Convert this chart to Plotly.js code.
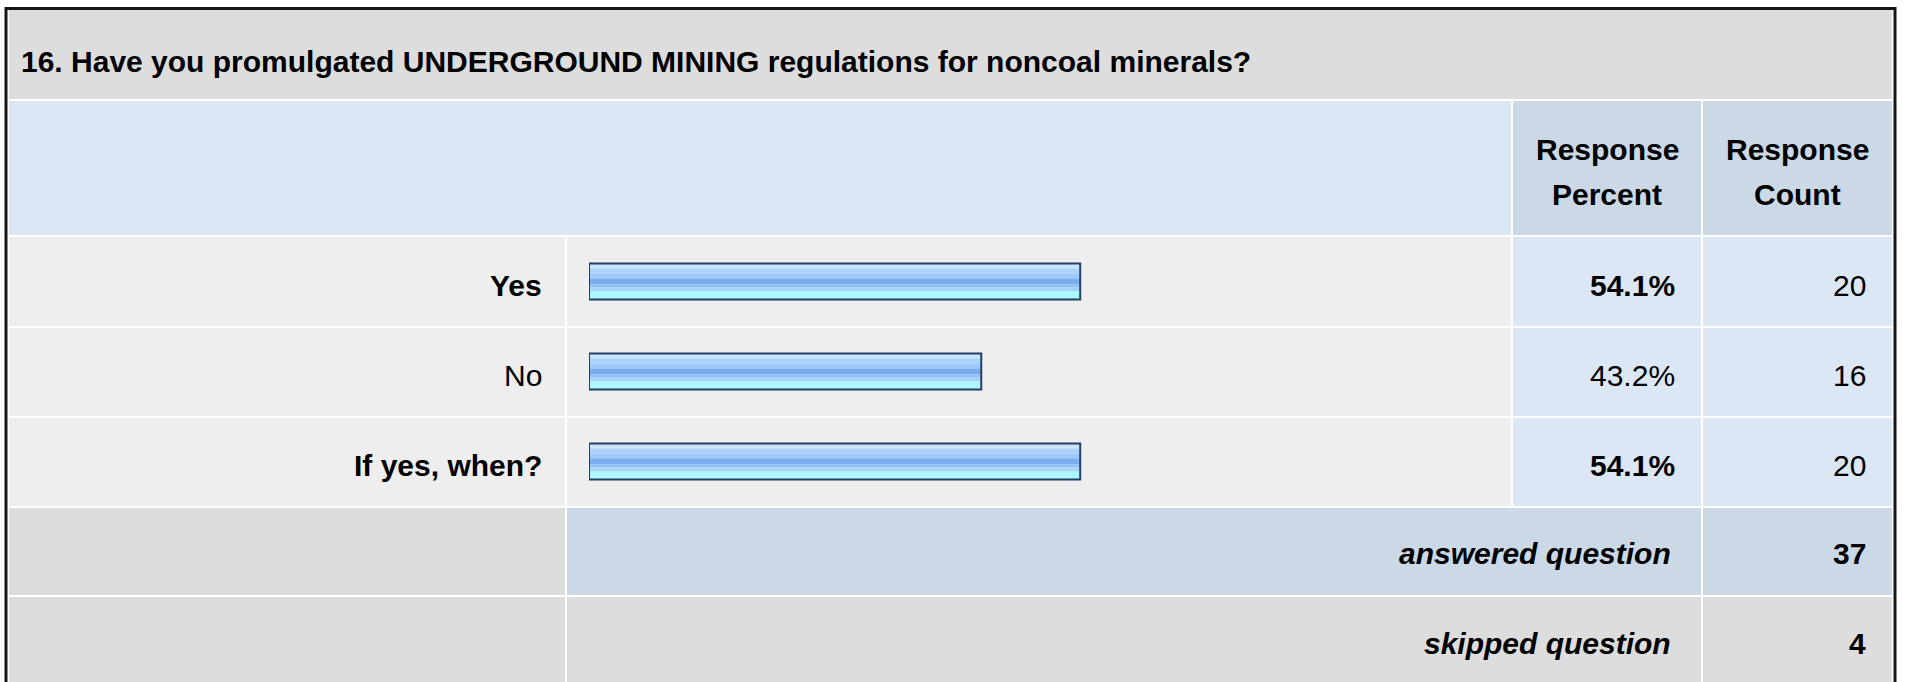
<!DOCTYPE html>
<html>
<head>
<meta charset="utf-8">
<script src="https://cdn.plot.ly/plotly-3.0.1.min.js"></script>
<style>
  html, body { margin: 0; padding: 0; background: #ffffff; }
  #chart { width: 1907px; height: 682px; }
</style>
</head>
<body>
<div id="chart"></div>
<script>
// ---- data ----
const questionTitle = "16. Have you promulgated UNDERGROUND MINING regulations for noncoal minerals?";
const categories = ["Yes", "No", "If yes, when?"];
const percents = [54.1, 43.2, 54.1];
const counts = [20, 16, 20];
const headerPercent = ["Response", "Percent"];
const headerCount = ["Response", "Count"];
const summaryLabels = ["answered question", "skipped question"];
const summaryValues = [37, 4];

// ---- layout helpers (pixels -> paper) ----
const W = 1907, H = 682;
const px = x => x / W;
const py = y => 1 - y / H;
const FONT = "Liberation Sans, Arial, Helvetica, sans-serif";

// column x-ranges (pixels)
const colLabel = [9, 565], colBar = [567, 1511], colPct = [1513, 1701], colCnt = [1703, 1892];
// row y-ranges (pixels)
const rowTitle = [10, 99], rowHead = [101, 235];
const rowResp = [[237, 326], [328, 416], [418, 506]];
const rowAns = [508, 595], rowSkip = [597, 690];

const C_TITLE = "#dddddd", C_HEADL = "#dce7f5", C_HEADD = "#cbd8e6",
      C_ROW = "#eeeeee", C_BLUE = "#dce7f5", C_GREY = "#dddddd";

const shapes = [];
function cell(xr, yr, color) {
  shapes.push({type: "rect", xref: "paper", yref: "paper", layer: "below",
    x0: px(xr[0]), x1: px(xr[1]), y0: py(yr[0]), y1: py(yr[1]),
    fillcolor: color, line: {width: 0}});
}
cell([9, 1892], rowTitle, C_TITLE);
cell([9, 1511], rowHead, C_HEADL);
cell(colPct, rowHead, C_HEADD);
cell(colCnt, rowHead, C_HEADD);
rowResp.forEach(r => {
  cell(colLabel, r, C_ROW);
  cell(colBar, r, C_ROW);
  cell(colPct, r, C_BLUE);
  cell(colCnt, r, C_BLUE);
});
cell(colLabel, rowAns, C_GREY);
cell([567, 1701], rowAns, C_HEADD);
cell(colCnt, rowAns, C_HEADD);
cell(colLabel, rowSkip, C_GREY);
cell([567, 1701], rowSkip, C_GREY);
cell(colCnt, rowSkip, C_GREY);
// outer frame
shapes.push({type: "rect", xref: "paper", yref: "paper", layer: "above",
  x0: px(6), x1: px(1895), y0: py(8.5), y1: py(720),
  fillcolor: "rgba(0,0,0,0)", line: {color: "#151515", width: 3}});

// ---- annotations ----
const ann = [];
function txt(text, x, y, anchor, size, weight, style) {
  ann.push({text: text, xref: "paper", yref: "paper", x: px(x), y: py(y),
    xanchor: anchor, yanchor: "middle", showarrow: false,
    font: {family: FONT, size: size, color: "#000000", weight: weight || "normal", style: style || "normal"}});
}
txt(questionTitle, 19, 61, "left", 30, "bold");
txt(headerPercent[0], 1607, 149, "center", 30, "bold");
txt(headerPercent[1], 1607, 195, "center", 30, "bold");
txt(headerCount[0], 1797, 149, "center", 30, "bold");
txt(headerCount[1], 1797, 195, "center", 30, "bold");

const maxPct = Math.max(...percents);
categories.forEach((c, i) => {
  const yc = (rowResp[i][0] + rowResp[i][1]) / 2 + 4;
  const w = percents[i] === maxPct ? "bold" : "normal";
  txt(c, 544, yc, "right", 30, w);
  txt(percents[i].toFixed(1) + "%", 1677, yc, "right", 30, w);
  txt(String(counts[i]), 1868, yc, "right", 30, "normal");
});
txt(summaryLabels[0], 1673, 553, "right", 30, "bold", "italic");
txt(String(summaryValues[0]), 1868, 553, "right", 30, "bold");
txt(summaryLabels[1], 1673, 643, "right", 30, "bold", "italic");
txt(String(summaryValues[1]), 1868, 643, "right", 30, "bold");

// ---- bars: glossy stripes (px from bar top, bar is 36px tall), then outline ----
const ROW_PX = 90, BAR_PX = 36;
const stripes = [
  [0, 5, "#cbe4fc"],
  [5, 10, "#abd3fc"],
  [10, 15, "#9cc9f9"],
  [15, 21, "#79abef"],
  [21, 24, "#8fbff5"],
  [24, 28, "#a3d4fa"],
  [28, 36, "#adf7ff"]
];
const traces = stripes.map(s => ({
  type: "bar", orientation: "h", x: percents, y: categories,
  offset: (s[0] - BAR_PX / 2) / ROW_PX, width: (s[1] - s[0]) / ROW_PX,
  marker: {color: s[2], line: {width: 0}}, hoverinfo: "skip"
}));
traces.push({
  type: "bar", orientation: "h", x: percents, y: categories,
  offset: -BAR_PX / 2 / ROW_PX, width: BAR_PX / ROW_PX,
  marker: {color: "rgba(0,0,0,0)", line: {width: 2, color: "#223f66"}}, hoverinfo: "skip"
});

const layout = {
  width: W, height: H, margin: {l: 0, r: 0, t: 0, b: 0, pad: 0},
  paper_bgcolor: "#ffffff", plot_bgcolor: "rgba(0,0,0,0)",
  showlegend: false, barmode: "overlay",
  xaxis: {domain: [px(589), px(1497)], range: [0, 100], visible: false, fixedrange: true},
  yaxis: {domain: [py(506.5), py(236.5)], type: "category", categoryarray: categories,
          categoryorder: "array", range: [2.5, -0.5], visible: false, fixedrange: true},
  shapes: shapes, annotations: ann
};
Plotly.newPlot("chart", traces, layout, {staticPlot: true, displayModeBar: false});
</script>
</body>
</html>
